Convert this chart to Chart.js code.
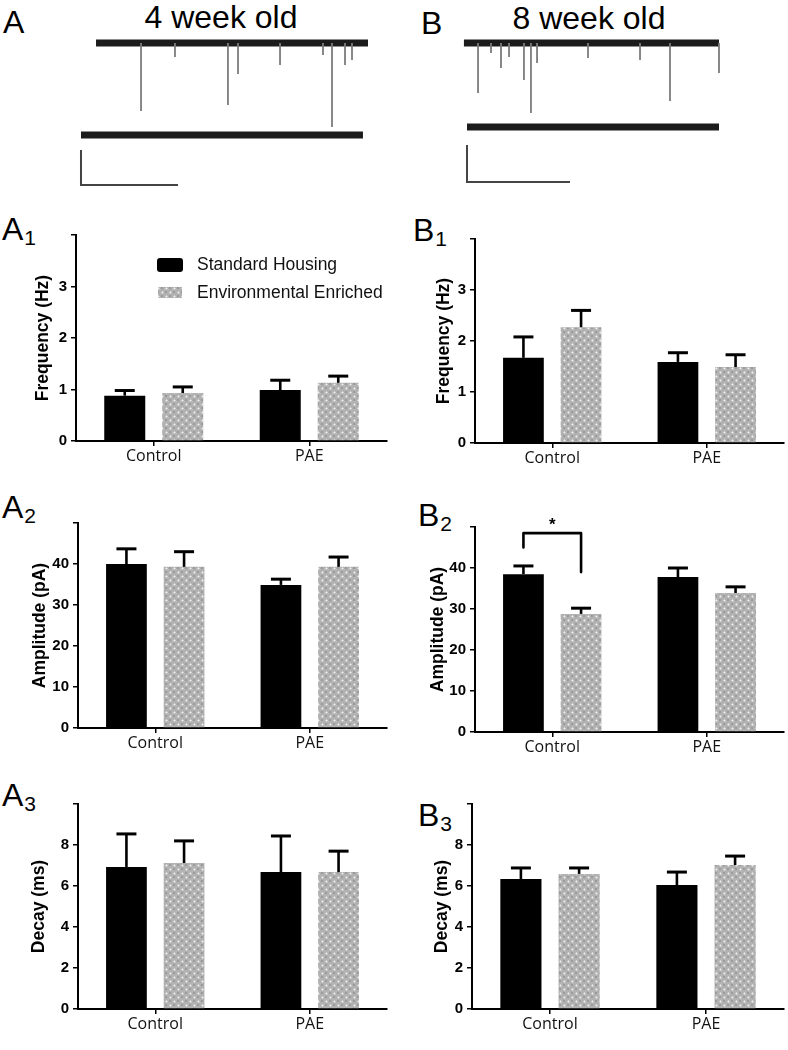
<!DOCTYPE html>
<html><head><meta charset="utf-8">
<script src="https://cdn.jsdelivr.net/npm/chart.js@4.4.1/dist/chart.umd.min.js"></script>
<style>
html,body{margin:0;padding:0;background:#fff;}
body{width:788px;height:1050px;position:relative;overflow:hidden;font-family:'Liberation Sans',Arial,sans-serif;color:#000;}
canvas{position:absolute;}
.lbl{position:absolute;font-size:32px;line-height:1;white-space:nowrap;}
.lbl span{font-size:21px;position:relative;top:5px;margin-left:1px;}
.ttl{position:absolute;font-size:32px;line-height:1;text-align:center;width:240px;white-space:nowrap;}
</style></head><body>
<div class="lbl" style="left:3px;top:6px">A</div>
<div class="ttl" style="left:101px;top:1px">4 week old</div>
<div class="lbl" style="left:421px;top:7px">B</div>
<div class="ttl" style="left:469px;top:2px">8 week old</div>
<div class="lbl" style="left:2px;top:213px">A<span>1</span></div>
<div class="lbl" style="left:413px;top:214px">B<span>1</span></div>
<div class="lbl" style="left:2px;top:491px">A<span>2</span></div>
<div class="lbl" style="left:418px;top:499px">B<span>2</span></div>
<div class="lbl" style="left:2px;top:779px">A<span>3</span></div>
<div class="lbl" style="left:418px;top:799px">B<span>3</span></div>

<canvas id="trA" width="394" height="165" style="left:0;top:30px;width:394px;height:165px"></canvas>
<canvas id="trB" width="394" height="165" style="left:394px;top:30px;width:394px;height:165px"></canvas>
<canvas id="cA1" width="394" height="260" style="left:0;top:210px;width:394px;height:260px"></canvas>
<canvas id="cB1" width="394" height="260" style="left:394px;top:214px;width:394px;height:260px"></canvas>
<canvas id="cA2" width="394" height="260" style="left:0;top:498px;width:394px;height:260px"></canvas>
<canvas id="cB2" width="394" height="260" style="left:394px;top:502px;width:394px;height:260px"></canvas>
<canvas id="cA3" width="394" height="260" style="left:0;top:779px;width:394px;height:260px"></canvas>
<canvas id="cB3" width="394" height="260" style="left:394px;top:779px;width:394px;height:260px"></canvas>

<script>
// ---------- DATA ----------
const categories = ['Control', 'PAE'];
const seriesNames = ['Standard Housing', 'Environmental Enriched'];

// 4 week old (A panels): mean and SEM per category
const freq4_SH = [0.88, 0.99];   const freq4_SH_sem = [0.10, 0.19];
const freq4_EE = [0.93, 1.13];   const freq4_EE_sem = [0.12, 0.13];
const amp4_SH  = [40.0, 34.9];   const amp4_SH_sem  = [3.7, 1.4];
const amp4_EE  = [39.3, 39.3];   const amp4_EE_sem  = [3.7, 2.4];
const decay4_SH = [6.93, 6.68];  const decay4_SH_sem = [1.61, 1.76];
const decay4_EE = [7.12, 6.68];  const decay4_EE_sem = [1.08, 1.02];

// 8 week old (B panels)
const freq8_SH = [1.67, 1.59];   const freq8_SH_sem = [0.41, 0.18];
const freq8_EE = [2.27, 1.49];   const freq8_EE_sem = [0.33, 0.24];
const amp8_SH  = [38.5, 37.8];   const amp8_SH_sem  = [2.0, 2.2];
const amp8_EE  = [28.8, 33.9];   const amp8_EE_sem  = [1.4, 1.5];
const decay8_SH = [6.34, 6.05];  const decay8_SH_sem = [0.54, 0.63];
const decay8_EE = [6.59, 7.02];  const decay8_EE_sem = [0.29, 0.44];

// axis ticks
const freqTickValues = [0, 1, 2, 3, 4];     const freqTickLabels = ['0', '1', '2', '3', ''];
const ampTickValues = [0, 10, 20, 30, 40, 50]; const ampTickLabels = ['0', '10', '20', '30', '40', ''];
const decayTickValues = [0, 2, 4, 6, 8, 10];  const decayTickLabels = ['0', '2', '4', '6', '8', ''];

// significance bracket (B2, Control: SH vs EE): left leg end, bracket top, right leg end (pA)
const sigB2Levels = [45, 48.5, 39];
const sigB2Label = '*';

// example traces (time s, current pA; downward events)
const trA_sweep1 = [0.155, 2.959];
const trA_sweep2 = [0.0, 2.907];
const trA_sweep2Offset = -52.6;
const trA_eventTimes = [0.619, 0.969, 1.515, 1.619, 2.052, 2.495, 2.588, 2.722, 2.794];
const trA_eventAmps  = [38.9, 8.0, 35.4, 17.7, 12.6, 6.9, 48.0, 12.6, 9.7];
const trA_scaleBarTop = -61.1;

const trB_sweep1 = [-0.03, 2.447];
const trB_sweep2 = [0.0, 2.447];
const trB_sweep2Offset = -45.4;
const trB_eventTimes = [0.107, 0.233, 0.330, 0.408, 0.553, 0.621, 0.680, 1.175, 1.680, 1.971, 2.447];
const trB_eventAmps  = [27.0, 5.4, 13.5, 7.6, 20.0, 37.8, 10.8, 8.1, 9.2, 31.4, 16.2];
const trB_scaleBarTop = -55.1;

const scaleBarTime = [0, 1];   // s
const scaleBarAmp = 20;        // pA

// ---------- RENDER ----------
Chart.defaults.font.family = "'Liberation Sans', Arial, sans-serif";

function makePattern(ctx) {
  const c = document.createElement('canvas'); c.width = 8; c.height = 8;
  const g = c.getContext('2d');
  g.fillStyle = '#b2b2b2'; g.fillRect(0, 0, 8, 8);
  g.fillStyle = '#9a9a9a'; g.fillRect(5, 1, 2, 2); g.fillRect(1, 5, 2, 2);
  g.fillStyle = '#d4d4d4';
  g.fillRect(1, 2, 3, 1); g.fillRect(2, 1, 1, 3);
  g.fillRect(5, 6, 3, 1); g.fillRect(6, 5, 1, 3);
  g.fillStyle = '#eaeaea'; g.fillRect(2, 2, 1, 1); g.fillRect(6, 6, 1, 1);
  return ctx.createPattern(c, 'repeat');
}

const errorBars = {
  id: 'errorBars',
  afterDatasetsDraw(chart, args, opts) {
    const ctx = chart.ctx, ys = chart.scales.y;
    chart.data.datasets.forEach((ds, di) => {
      const meta = chart.getDatasetMeta(di);
      const sem = opts.sems[di];
      meta.data.forEach((bar, i) => {
        const yTop = ys.getPixelForValue(ds.data[i] + sem[i]);
        ctx.save();
        ctx.strokeStyle = '#000';
        ctx.lineWidth = 2.6;
        ctx.beginPath(); ctx.moveTo(bar.x, bar.y); ctx.lineTo(bar.x, yTop); ctx.stroke();
        ctx.lineWidth = 3;
        ctx.beginPath(); ctx.moveTo(bar.x - 10, yTop); ctx.lineTo(bar.x + 10, yTop); ctx.stroke();
        ctx.restore();
      });
    });
  }
};

const insideLegend = {
  id: 'insideLegend',
  afterDraw(chart, args, opts) {
    if (!opts.show) return;
    const ctx = chart.ctx, a = chart.chartArea;
    const x0 = a.left + 81;
    ctx.save();
    ctx.fillStyle = '#000';
    ctx.beginPath(); ctx.roundRect(x0, a.top + 23, 26, 14, 3); ctx.fill();
    ctx.fillStyle = chart.data.datasets[1].backgroundColor;
    ctx.fillRect(x0 + 1, a.top + 52, 24, 11);
    ctx.fillStyle = '#111';
    ctx.font = "17.5px 'Liberation Sans', Arial, sans-serif";
    ctx.textBaseline = 'middle';
    ctx.fillText(chart.data.datasets[0].label, x0 + 40, a.top + 30);
    ctx.fillText(chart.data.datasets[1].label, x0 + 40, a.top + 58);
    ctx.restore();
  }
};

const sigBracket = {
  id: 'sigBracket',
  afterDraw(chart, args, opts) {
    if (!opts.levels) return;
    const ctx = chart.ctx, ys = chart.scales.y;
    const b0 = chart.getDatasetMeta(0).data[opts.cat];
    const b1 = chart.getDatasetMeta(1).data[opts.cat];
    const yL = ys.getPixelForValue(opts.levels[0]);
    const yT = ys.getPixelForValue(opts.levels[1]);
    const yR = ys.getPixelForValue(opts.levels[2]);
    ctx.save();
    ctx.strokeStyle = '#000'; ctx.lineWidth = 2.6; ctx.lineJoin = 'round'; ctx.lineCap = 'round';
    ctx.beginPath(); ctx.moveTo(b0.x, yL); ctx.lineTo(b0.x, yT); ctx.lineTo(b1.x, yT); ctx.lineTo(b1.x, yR); ctx.stroke();
    ctx.fillStyle = '#000';
    ctx.font = "bold 17px 'Liberation Sans', Arial, sans-serif";
    ctx.textAlign = 'center'; ctx.textBaseline = 'alphabetic';
    ctx.fillText(opts.label, (b0.x + b1.x) / 2, yT - 3);
    ctx.restore();
  }
};

function barChart(id, cfg) {
  const canvas = document.getElementById(id);
  const ctx = canvas.getContext('2d');
  const pattern = makePattern(ctx);
  const tv = cfg.tickValues, tl = cfg.tickLabels;
  new Chart(ctx, {
    type: 'bar',
    data: {
      labels: categories,
      datasets: [
        { label: seriesNames[0], data: cfg.sh, backgroundColor: '#000', borderWidth: 0,
          categoryPercentage: 0.746, barPercentage: 0.707 },
        { label: seriesNames[1], data: cfg.ee, backgroundColor: pattern, borderWidth: 0,
          categoryPercentage: 0.746, barPercentage: 0.707 }
      ]
    },
    options: {
      responsive: false, animation: false, devicePixelRatio: 1, events: [],
      layout: { padding: { top: 25, left: 0, right: cfg.padRight, bottom: 0 } },
      plugins: {
        legend: { display: false }, tooltip: { enabled: false },
        errorBars: { sems: [cfg.shSem, cfg.eeSem] },
        insideLegend: { show: !!cfg.legend },
        sigBracket: cfg.sig || {}
      },
      scales: {
        x: {
          grid: { offset: false, drawOnChartArea: false, drawTicks: true, tickLength: 5, color: '#000', lineWidth: 1.5 },
          border: { display: true, color: '#000', width: 2 },
          ticks: { font: { family: "'Open Sans', sans-serif", size: 16 }, color: '#111', padding: 1, maxRotation: 0 },
          afterFit: s => { s.height = cfg.xHeight; }
        },
        y: {
          min: tv[0], max: tv[tv.length - 1],
          ticks: { stepSize: tv[1] - tv[0], callback: (v, i) => tl[i], color: '#000', padding: 4,
                   font: { weight: 'bold', size: 15 } },
          grid: { drawOnChartArea: false, drawTicks: true, tickLength: 5, color: '#000', lineWidth: 1.5 },
          border: { display: true, color: '#000', width: 2 },
          title: { display: true, text: cfg.title, color: '#000', font: { weight: 'bold', size: 17.5 },
                   padding: { top: cfg.titleCenter - 10.5, bottom: 0 } },
          afterFit: s => { s.width = cfg.yWidth; }
        }
      }
    },
    plugins: [errorBars, insideLegend, sigBracket]
  });
}

barChart('cA1', { sh: freq4_SH, shSem: freq4_SH_sem, ee: freq4_EE, eeSem: freq4_EE_sem,
  tickValues: freqTickValues, tickLabels: freqTickLabels, title: 'Frequency (Hz)',
  yWidth: 76, xHeight: 29, padRight: 7, titleCenter: 43, legend: true });
barChart('cB1', { sh: freq8_SH, shSem: freq8_SH_sem, ee: freq8_EE, eeSem: freq8_EE_sem,
  tickValues: freqTickValues, tickLabels: freqTickLabels, title: 'Frequency (Hz)',
  yWidth: 81, xHeight: 31, padRight: 4, titleCenter: 50 });
barChart('cA2', { sh: amp4_SH, shSem: amp4_SH_sem, ee: amp4_EE, eeSem: amp4_EE_sem,
  tickValues: ampTickValues, tickLabels: ampTickLabels, title: 'Amplitude (pA)',
  yWidth: 78, xHeight: 30, padRight: 7, titleCenter: 40 });
barChart('cB2', { sh: amp8_SH, shSem: amp8_SH_sem, ee: amp8_EE, eeSem: amp8_EE_sem,
  tickValues: ampTickValues, tickLabels: ampTickLabels, title: 'Amplitude (pA)',
  yWidth: 81, xHeight: 30, padRight: 4, titleCenter: 44,
  sig: { cat: 0, levels: sigB2Levels, label: sigB2Label } });
barChart('cA3', { sh: decay4_SH, shSem: decay4_SH_sem, ee: decay4_EE, eeSem: decay4_EE_sem,
  tickValues: decayTickValues, tickLabels: decayTickLabels, title: 'Decay (ms)',
  yWidth: 78, xHeight: 30, padRight: 7, titleCenter: 39 });
barChart('cB3', { sh: decay8_SH, shSem: decay8_SH_sem, ee: decay8_EE, eeSem: decay8_EE_sem,
  tickValues: decayTickValues, tickLabels: decayTickLabels, title: 'Decay (ms)',
  yWidth: 78, xHeight: 30, padRight: 4, titleCenter: 48 });

function traceChart(id, v) {
  const spikes = [];
  v.times.forEach((t, i) => { spikes.push({ x: t, y: 0 }, { x: t, y: -v.amps[i] }, { x: t, y: null }); });
  const sbBottom = v.sbTop - scaleBarAmp;
  new Chart(document.getElementById(id).getContext('2d'), {
    type: 'line',
    data: { datasets: [
      { data: spikes, borderColor: '#7c7c7c', borderWidth: 1.8, pointRadius: 0, spanGaps: false },
      { data: [{ x: v.sw1[0], y: 0 }, { x: v.sw1[1], y: 0 }], borderColor: '#1c1c1c', borderWidth: 7, pointRadius: 0, borderCapStyle: 'butt' },
      { data: [{ x: v.sw2[0], y: v.off }, { x: v.sw2[1], y: v.off }], borderColor: '#1c1c1c', borderWidth: 7, pointRadius: 0, borderCapStyle: 'butt' },
      { data: [{ x: scaleBarTime[0], y: v.sbTop }, { x: scaleBarTime[0], y: sbBottom }, { x: scaleBarTime[1], y: sbBottom }],
        borderColor: '#444', borderWidth: 2, pointRadius: 0, borderJoinStyle: 'miter' }
    ] },
    options: {
      responsive: false, animation: false, devicePixelRatio: 1, events: [],
      layout: { padding: 0 },
      plugins: { legend: { display: false }, tooltip: { enabled: false } },
      scales: {
        x: { type: 'linear', display: false, min: v.xr[0], max: v.xr[1] },
        y: { display: false, min: v.yr[0], max: v.yr[1] }
      }
    }
  });
}

traceChart('trA', { sw1: trA_sweep1, sw2: trA_sweep2, off: trA_sweep2Offset, times: trA_eventTimes, amps: trA_eventAmps,
  sbTop: trA_scaleBarTop, xr: [-0.835, 3.227], yr: [-86.86, 7.43] });
traceChart('trB', { sw1: trB_sweep1, sw2: trB_sweep2, off: trB_sweep2Offset, times: trB_eventTimes, amps: trB_eventAmps,
  sbTop: trB_scaleBarTop, xr: [-0.709, 3.117], yr: [-82.16, 7.03] });
</script>
</body></html>
